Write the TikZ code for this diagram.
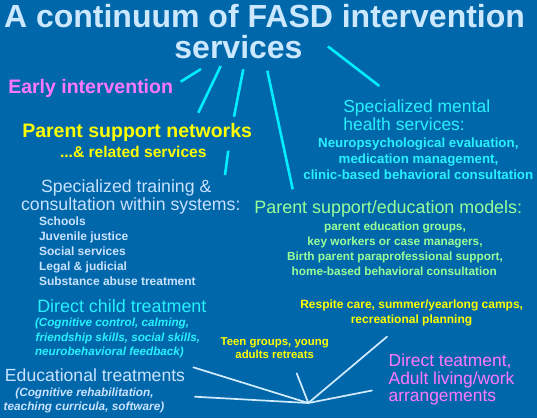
\documentclass[tikz,border=0pt]{standalone}
\usepackage{fontspec}
\setmainfont{Liberation Sans}
\definecolor{bgblue}{RGB}{0,104,170}
\definecolor{titlecol}{RGB}{204,232,255}
\definecolor{lightcol}{RGB}{200,226,255}
\definecolor{cyantext}{RGB}{40,240,255}
\definecolor{cyanline}{RGB}{0,238,255}
\definecolor{greentext}{RGB}{153,255,153}
\definecolor{yellowtext}{RGB}{255,255,0}
\definecolor{pinktext}{RGB}{255,119,255}
\definecolor{whiteline}{RGB}{210,235,255}
\newcommand\szf[1]{\fontsize{#1}{#1}\selectfont}
\tikzset{
  lbl/.style={inner sep=0pt, outer sep=0pt},
  lw/.style={lbl, anchor=base west},
  lc/.style={lbl, anchor=base},
  cline/.style={draw=cyanline, line width=2.6pt},
  wline/.style={draw=whiteline, line width=1.7pt, line cap=round},
}
\begin{document}
\begin{tikzpicture}[x=1pt,y=-1pt]
\fill[bgblue] (0,0) rectangle (537,418);
\useasboundingbox (0,0) rectangle (537,418);

% title
\node[lc, text=titlecol, font=\szf{32}\bfseries] (t1) at (264.5,27) {A continuum of FASD intervention};
\node[lc, text=titlecol, font=\szf{32}\bfseries] (t2) at (238.5,58.5) {services};

% left column
\node[lw, text=pinktext, font=\szf{19.5}\bfseries] (early) at (8.3,93.3) {Early intervention};
\node[lw, text=yellowtext, font=\szf{19.5}\bfseries] (psn) at (22.3,137) {Parent support networks};
\node[lw, text=yellowtext, font=\szf{15.6}\bfseries] (rel) at (60,157) {...\& related services};

\node[lc, text=lightcol, font=\szf{17.7}] (spt1) at (126.3,192.3) {Specialized training \&};
\node[lc, text=lightcol, font=\szf{17.7}] (spt2) at (130.8,210) {consultation within systems:};
\node[lw, text=lightcol, font=\szf{12}\bfseries] (s1) at (39,225) {Schools};
\node[lw, text=lightcol, font=\szf{12}\bfseries] (s2) at (39,240) {Juvenile justice};
\node[lw, text=lightcol, font=\szf{12}\bfseries] (s3) at (39,255) {Social services};
\node[lw, text=lightcol, font=\szf{12}\bfseries] (s4) at (39,270) {Legal \& judicial};
\node[lw, text=lightcol, font=\szf{12}\bfseries] (s5) at (39,285) {Substance abuse treatment};

% mental health
\node[lw, text=cyantext, font=\szf{17.5}] (mh1) at (343.3,112.5) {Specialized mental};
\node[lw, text=cyantext, font=\szf{17.5}] (mh2) at (343.3,130.7) {health services:};
\node[lc, text=cyantext, font=\szf{13.3}\bfseries] (mh3) at (418.3,147.5) {Neuropsychological evaluation,};
\node[lc, text=cyantext, font=\szf{13.3}\bfseries] (mh4) at (418.5,163.3) {medication management,};
\node[lc, text=cyantext, font=\szf{13.3}\bfseries] (mh5) at (418.3,179.3) {clinic-based behavioral consultation};

% parent support / education models
\node[lc, text=greentext, font=\szf{17.9}] (pm1) at (388.3,213.3) {Parent support/education models:};
\node[lc, text=greentext, font=\szf{11.8}\bfseries] (pm2) at (395,230) {parent education groups,};
\node[lc, text=greentext, font=\szf{11.8}\bfseries] (pm3) at (395,245) {key workers or case managers,};
\node[lc, text=greentext, font=\szf{11.8}\bfseries] (pm4) at (395,260) {Birth parent paraprofessional support,};
\node[lc, text=greentext, font=\szf{11.8}\bfseries] (pm5) at (394.2,275) {home-based behavioral consultation};

% direct child treatment
\node[lw, text=cyantext, font=\szf{17.9}] (dc1) at (37.3,312.7) {Direct child treatment};
\node[lw, text=cyantext, font=\szf{11.7}\bfseries\itshape] (dc2) at (35,326.7) {(Cognitive control, calming,};
\node[lw, text=cyantext, font=\szf{11.7}\bfseries\itshape] (dc3) at (35.7,341.7) {friendship skills, social skills,};
\node[lw, text=cyantext, font=\szf{11.7}\bfseries\itshape] (dc4) at (35,355.7) {neurobehavioral feedback)};

% educational treatments
\node[lw, text=lightcol, font=\szf{17.6}] (ed1) at (5,381.7) {Educational treatments};
\node[lc, text=lightcol, font=\szf{11.8}\bfseries\itshape] (ed2) at (84.5,396.7) {(Cognitive rehabilitation,};
\node[lc, text=lightcol, font=\szf{11.8}\bfseries\itshape] (ed3) at (84,410.7) {teaching curricula, software)};

% respite / teen
\node[lc, text=yellowtext, font=\szf{12}\bfseries] (rs1) at (411.7,308.3) {Respite care, summer/yearlong camps,};
\node[lc, text=yellowtext, font=\szf{12}\bfseries] (rs2) at (411.5,323.3) {recreational planning};
\node[lc, text=yellowtext, font=\szf{11.4}\bfseries] (tg1) at (274.7,345) {Teen groups, young};
\node[lc, text=yellowtext, font=\szf{11.4}\bfseries] (tg2) at (274.7,358.3) {adults retreats};

% direct treatment adult
\node[lw, text=pinktext, font=\szf{17.4}] (dt1) at (388.7,366) {Direct teatment,};
\node[lw, text=pinktext, font=\szf{17.4}] (dt2) at (388.7,384.3) {Adult living/work};
\node[lw, text=pinktext, font=\szf{17.4}] (dt3) at (388.7,401.5) {arrangements};

% cyan connector lines from the title
\coordinate (a1) at (201,69);      \coordinate (b1) at (180.7,81.7);
\coordinate (a2) at (220.7,66);    \coordinate (b2) at (198.3,112.7);
\coordinate (a3) at (243.3,69.3);  \coordinate (b3) at (234,116.7);
\coordinate (a3b) at (228.3,150.7);\coordinate (b3b) at (225,175);
\coordinate (a4) at (267.3,70.7);  \coordinate (b4) at (292.7,189.3);
\coordinate (a5) at (328,46.5);    \coordinate (b5) at (379.3,86);
\draw[cline] (a1) -- (b1);
\draw[cline] (a2) -- (b2);
\draw[cline] (a3) -- (b3);
\draw[cline] (a3b) -- (b3b);
\draw[cline] (a4) -- (b4);
\draw[cline] (a5) -- (b5);

% white fan at the bottom
\coordinate (hub) at (308.3,403);
\coordinate (w1) at (193.3,367.3);
\coordinate (w2) at (195,396.7);
\coordinate (w3) at (296.7,373.3);
\coordinate (w4) at (387,336.7);
\coordinate (w5) at (372,390.5);
\draw[wline] (w1) -- (hub);
\draw[wline] (w2) -- (hub);
\draw[wline] (w3) -- (hub);
\draw[wline] (w4) -- (hub);
\draw[wline] (w5) -- (hub);
\end{tikzpicture}
\end{document}
